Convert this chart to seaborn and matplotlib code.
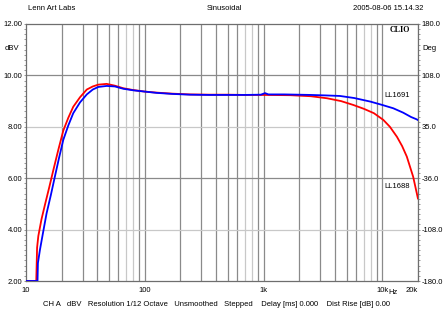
import numpy as np
import pandas as pd
import seaborn as sns
import matplotlib
matplotlib.use("Agg")
import matplotlib.pyplot as plt
from matplotlib.ticker import MultipleLocator, NullFormatter

# Frequency response, 1/12 octave sine sweep (dBV)
freq_ll1688 = [10, 12.2, 12.4, 12.7, 13.5, 14.5, 15.7, 17.0, 18.7, 20.6, 22.7, 25.0,
               28.5, 32.5, 36.5, 40.6, 47.8, 56, 66, 80, 100, 126, 170, 240, 350,
               490, 700, 1000, 1680, 2500, 3430, 4500, 5700, 7000, 8500, 10200,
               11600, 13300, 14700, 16100, 18200, 20000]
dbv_ll1688 = [2.0, 2.0, 3.3, 3.75, 4.4, 5.0, 5.65, 6.32, 7.1, 7.85, 8.35, 8.78,
              9.15, 9.45, 9.57, 9.64, 9.67, 9.60, 9.50, 9.43, 9.37, 9.33, 9.29,
              9.26, 9.25, 9.25, 9.24, 9.24, 9.23, 9.19, 9.11, 9.0, 8.85, 8.7,
              8.53, 8.27, 8.0, 7.61, 7.25, 6.84, 6.06, 5.2]

freq_ll1691 = [10, 12.5, 12.6, 13.1, 14.0, 14.9, 16.2, 17.5, 19.0, 20.6, 22.7, 25.0,
               28.5, 32.5, 36.5, 40.6, 47.8, 56, 66, 80, 100, 126, 170, 240, 350,
               490, 700, 950, 1030, 1100, 1500, 2480, 3400, 4400, 5800, 7950,
               10000, 12400, 15000, 17500, 19500, 20000]
dbv_ll1691 = [2.0, 2.0, 2.7, 3.21, 3.95, 4.63, 5.35, 6.06, 6.8, 7.49, 8.05, 8.53,
              8.95, 9.26, 9.45, 9.55, 9.59, 9.57, 9.48, 9.42, 9.37, 9.32, 9.28,
              9.25, 9.24, 9.24, 9.24, 9.25, 9.31, 9.26, 9.26, 9.24, 9.22, 9.20,
              9.12, 8.98, 8.85, 8.72, 8.55, 8.38, 8.29, 8.26]

x_ticks = [10, 100, 1000, 10000, 20000]
x_labels = ["10", "100", "1k", "10k", "20k"]
y_ticks = [2, 4, 6, 8, 10, 12]
y_labels = ["2.00", "4.00", "6.00", "8.00", "10.00", "12.00"]
deg_labels = ["-180.0", "-108.0", "-36.0", "35.0", "108.0", "180.0"]

sns.set_theme(style="white")
plt.rcParams["font.family"] = ["Liberation Sans", "DejaVu Sans"]
FS = 5.5
TXT = "#000000"

W, H = 448, 336
fig = plt.figure(figsize=(W / 100, H / 100), dpi=100)
fig.patch.set_facecolor("white")
L, R, T, B = 26, 418, 24, 281
ax = fig.add_axes([L / W, 1 - B / H, (R - L) / W, (B - T) / H])
ax.set_facecolor("white")

ax.set_xscale("log")
ax.set_xlim(10, 20000)
ax.set_ylim(2, 12)

# grid
dark, light = "#8a8a8a", "#c8c8c8"
for dec in [10, 100, 1000, 10000]:
    for m in range(1, 10):
        f = dec * m
        if f <= 10 or f > 20000:
            continue
        c = light if m in (7, 8) or f == 20000 else dark
        ax.axvline(f, color=c, lw=0.9, zorder=1)
for yv, c in [(4, light), (6, dark), (8, light), (10, dark)]:
    ax.axhline(yv, color=c, lw=0.9, zorder=1)

df_a = pd.DataFrame({"Hz": freq_ll1688, "dBV": dbv_ll1688})
df_b = pd.DataFrame({"Hz": freq_ll1691, "dBV": dbv_ll1691})
sns.lineplot(data=df_a, x="Hz", y="dBV", ax=ax, color="#ff0000", lw=1.3,
             estimator=None, sort=False, zorder=3)
sns.lineplot(data=df_b, x="Hz", y="dBV", ax=ax, color="#0000ff", lw=1.3,
             estimator=None, sort=False, zorder=4)
ax.set_xlabel("")
ax.set_ylabel("")

ax.text(13300, 9.2, "LL1691", fontsize=FS, color=TXT, ha="center", va="center", zorder=5)
ax.text(13300, 5.67, "LL1688", fontsize=FS, color=TXT, ha="center", va="center", zorder=5)

for s in ax.spines.values():
    s.set_color("#6e6e6e")
    s.set_linewidth(0.9)

ax.set_xticks(x_ticks)
ax.set_xticklabels(x_labels, fontsize=FS, color=TXT)
ax.xaxis.set_minor_formatter(NullFormatter())
ax.tick_params(axis="x", which="both", length=0, pad=4.5)
ax.get_xticklabels()[-1].set_horizontalalignment("right")
ax.get_xticklabels()[-1].set_x(20000)

ax.set_yticks(y_ticks)
ax.set_yticklabels(y_labels, fontsize=FS, color=TXT)
ax.yaxis.set_minor_locator(MultipleLocator(0.2))
ax.tick_params(axis="y", which="both", direction="out", length=1.6, width=0.5,
               color="#6e6e6e", pad=1.2, left=True)

ax2 = ax.twinx()
ax2.set_ylim(2, 12)
ax2.set_yticks(y_ticks)
ax2.set_yticklabels(deg_labels, fontsize=FS, color=TXT)
ax2.yaxis.set_minor_locator(MultipleLocator(0.2))
ax2.tick_params(axis="y", which="both", direction="out", length=1.6, width=0.5,
                color="#6e6e6e", pad=1.2, right=True)
for s in ax2.spines.values():
    s.set_visible(False)
ax2.grid(False)

def ftext(x, y, s, **kw):
    fig.text(x / W, 1 - y / H, s, fontsize=FS, color=TXT, va="center", **kw)

ftext(28, 8.5, "Lenn Art Labs", ha="left")
ftext(224, 8.5, "Sinusoidal", ha="center")
ftext(423, 8.5, "2005-08-06 15.14.32", ha="right")
ftext(5, 48, "dBV", ha="left")
ftext(422, 48, "Deg", ha="left")
ftext(388, 292, "Hz", ha="left")
ftext(216, 305, "CH A   dBV   Resolution 1/12 Octave   Unsmoothed   Stepped    "
      "Delay [ms] 0.000    Dist Rise [dB] 0.00", ha="center")
fig.text(410 / W, 1 - 30 / H, "CLIO", fontsize=5.8, fontweight="bold",
         family=["Liberation Serif", "DejaVu Serif"], ha="right", va="center", color=TXT)

fig.savefig("out.png", dpi=100, facecolor="white")
